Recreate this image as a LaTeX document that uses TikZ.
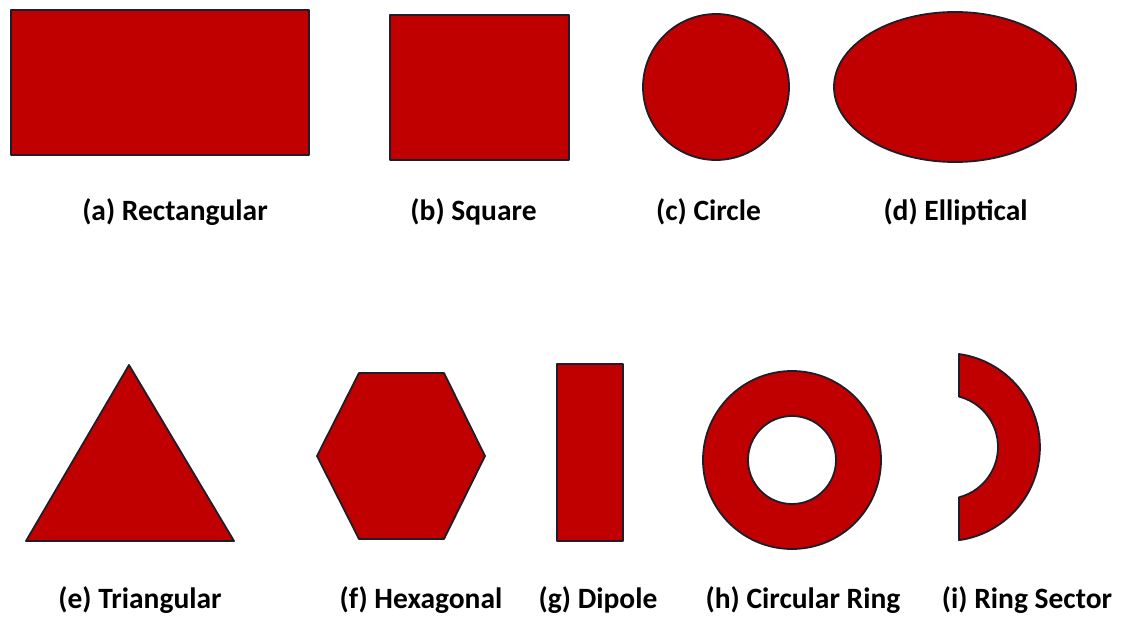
\documentclass[tikz,border=0pt]{standalone}
\usepackage{fontspec}
\setmainfont{Carlito}
\definecolor{shapered}{HTML}{C00000}
\definecolor{edgedark}{HTML}{1E1E2A}
\tikzset{
  shp/.style={fill=shapered, draw=edgedark, line width=1.8pt, line join=round},
  lbl/.style={font=\fontsize{29.5}{34}\selectfont\bfseries, text=black, inner sep=0pt, anchor=base}
}
\begin{document}
\begin{tikzpicture}[x=1pt,y=-1pt]
\useasboundingbox (0,0) rectangle (1121,616);
% row 1
\draw[shp] (11,10) rectangle (309,155);
\draw[shp] (390,15) rectangle (569,160);
\draw[shp] (716,87) circle[radius=73];
\draw[shp] (955,87) ellipse[x radius=121, y radius=75];
% row 2
\draw[shp] (129,365) -- (234,541) -- (26,541) -- cycle;
\draw[shp] (359,373) -- (444,373) -- (485,456) -- (444,539) -- (359,539) -- (317,456) -- cycle;
\draw[shp] (557,364) rectangle (623,541);
\draw[shp, even odd rule] (792,460) circle[radius=89] (792,460) circle[radius=44];
\draw[shp] (959,354) arc[start angle=-82, end angle=82, radius=94]
  -- (959,497.3) arc[start angle=75.5, end angle=-75.5, radius=52] -- cycle;
% labels
\node[lbl] (la) at (175,220) {(a) Rectangular};
\node[lbl] (lb) at (473.5,220) {(b) Square};
\node[lbl] (lc) at (708.5,220) {(c) Circle};
\node[lbl] (ld) at (955.5,220) {(d) Elliptical};
\node[lbl] (le) at (140,608) {(e) Triangular};
\node[lbl] (lf) at (421,608) {(f) Hexagonal};
\node[lbl] (lg) at (598,608) {(g) Dipole};
\node[lbl] (lh) at (803,608) {(h) Circular Ring};
\node[lbl] (li) at (1027,608) {(i) Ring Sector};
\end{tikzpicture}
\end{document}
